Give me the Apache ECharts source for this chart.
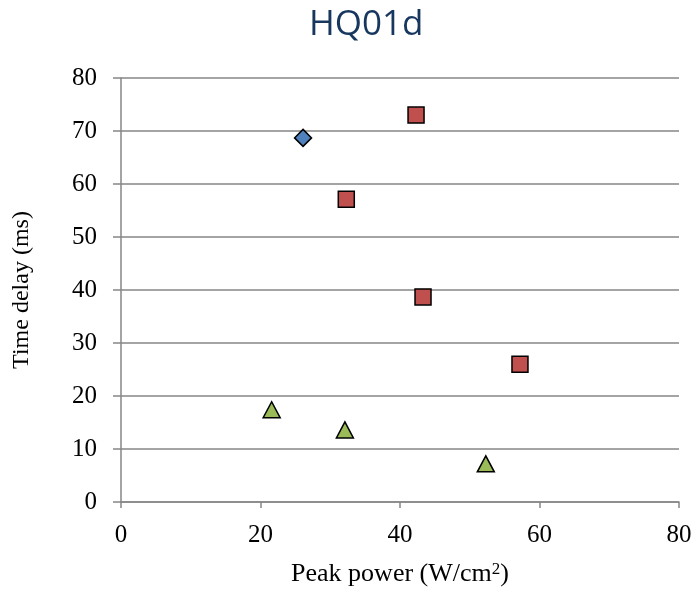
<!DOCTYPE html>
<html><head><meta charset="utf-8">
<script src="https://cdn.jsdelivr.net/npm/echarts@6/dist/echarts.min.js"></script>
<style>html,body{margin:0;padding:0;background:#fff}#c{width:695px;height:589px}</style>
</head><body><div id="c"></div>
<script>
const titleText = "HQ01d";
const xNameMain = "Peak power (W/cm";
const xNameSup = "2";
const xNameEnd = ")";
const yName = "Time delay (ms)";
const diamondX = [26.1];
const diamondY = [68.7];
const squareX = [42.3, 32.3, 43.3, 57.2];
const squareY = [73.0, 57.1, 38.7, 26.0];
const triangleX = [21.6, 32.1, 52.3];
const triangleY = [17.4, 13.6, 7.2];

const zip = (a, b) => a.map((v, i) => [v, b[i]]);
const chart = echarts.init(document.getElementById('c'));
const serif = "'Liberation Serif', 'Times New Roman', serif";
chart.setOption({
  animation: false,
  title: {text: titleText, left: 304, top: 3, textStyle: {fontFamily: "'Open Sans', 'Noto Sans', sans-serif", fontSize: 35, fontWeight: 'normal', color: '#17375E'}},
  grid: {left: 121, right: 16, top: 78, bottom: 87, containLabel: false, outerBoundsMode: 'none'},
  xAxis: {
    type: 'value', min: 0, max: 80, interval: 20,
    name: '{m|' + xNameMain + '}{s|' + xNameSup + '}{m|' + xNameEnd + '}', nameLocation: 'middle', nameGap: 59,
    nameTextStyle: {fontFamily: serif, fontSize: 26, color: '#000',
      rich: {m: {fontFamily: serif, fontSize: 26, color: '#000'},
             s: {fontFamily: serif, fontSize: 17, color: '#000', verticalAlign: 'top', padding: [0, 0, 10, 0]}}},
    axisLine: {show: true, lineStyle: {color: '#868686', width: 1.5}},
    axisTick: {show: true, inside: false, length: 6, lineStyle: {color: '#868686', width: 1.5}},
    axisLabel: {fontFamily: serif, fontSize: 25, color: '#000', margin: 21},
    splitLine: {show: false}
  },
  yAxis: {
    type: 'value', min: 0, max: 80, interval: 10,
    name: yName, nameLocation: 'middle', nameGap: 87, nameRotate: 90,
    nameTextStyle: {fontFamily: serif, fontSize: 24, color: '#000'},
    axisLine: {show: true, lineStyle: {color: '#868686', width: 1.5}},
    axisTick: {show: true, length: 8, lineStyle: {color: '#868686', width: 1.5}},
    axisLabel: {fontFamily: serif, fontSize: 25, color: '#000', margin: 24},
    splitLine: {show: true, lineStyle: {color: '#868686', width: 1.5}}
  },
  series: [
    {type: 'scatter', data: zip(diamondX, diamondY), symbol: 'diamond', symbolSize: [17, 17],
     itemStyle: {color: '#4F81BD', borderColor: '#000', borderWidth: 1.5, opacity: 1}},
    {type: 'scatter', data: zip(squareX, squareY), symbol: 'rect', symbolSize: 16,
     itemStyle: {color: '#C0504D', borderColor: '#000', borderWidth: 1.5, opacity: 1}},
    {type: 'scatter', data: zip(triangleX, triangleY), symbol: 'triangle', symbolSize: [17, 16],
     itemStyle: {color: '#9BBB59', borderColor: '#000', borderWidth: 1.5, opacity: 1}}
  ]
});
</script></body></html>
